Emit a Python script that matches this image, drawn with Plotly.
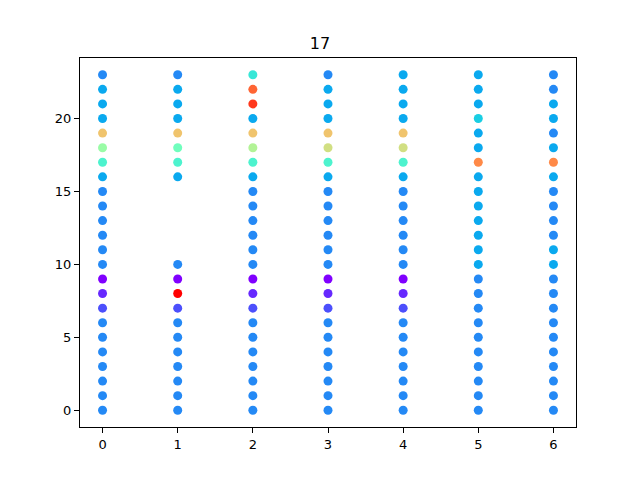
import numpy as np
import plotly.graph_objects as go

days = [0, 1, 2, 3, 4, 5, 6]
hours = list(range(24))

# values by day, hours 0..23 (None = no observation)
day0 = [0.18, 0.18, 0.18, 0.18, 0.18, 0.18, 0.18, 0.10, 0.05, 0.00, 0.18, 0.18, 0.18, 0.18, 0.18, 0.18, 0.23, 0.40, 0.55, 0.72, 0.23, 0.23, 0.23, 0.18]
day1 = [0.18, 0.18, 0.18, 0.18, 0.18, 0.18, 0.18, 0.10, 1.00, 0.00, 0.18, None, None, None, None, None, 0.23, 0.40, 0.47, 0.72, 0.23, 0.23, 0.23, 0.18]
day2 = [0.18, 0.18, 0.18, 0.18, 0.18, 0.18, 0.18, 0.10, 0.05, 0.00, 0.18, 0.18, 0.18, 0.18, 0.18, 0.18, 0.23, 0.40, 0.60, 0.72, 0.23, 0.93, 0.87, 0.36]
day3 = [0.18, 0.18, 0.18, 0.18, 0.18, 0.18, 0.18, 0.10, 0.05, 0.00, 0.18, 0.18, 0.18, 0.18, 0.18, 0.18, 0.23, 0.40, 0.66, 0.72, 0.23, 0.23, 0.23, 0.18]
day4 = [0.18, 0.18, 0.18, 0.18, 0.18, 0.18, 0.18, 0.10, 0.05, 0.00, 0.18, 0.18, 0.18, 0.18, 0.18, 0.18, 0.23, 0.40, 0.66, 0.72, 0.23, 0.23, 0.23, 0.23]
day5 = [0.18, 0.18, 0.18, 0.18, 0.18, 0.18, 0.18, 0.18, 0.18, 0.18, 0.23, 0.23, 0.23, 0.23, 0.23, 0.23, 0.23, 0.82, 0.23, 0.23, 0.30, 0.23, 0.23, 0.23]
day6 = [0.18, 0.18, 0.18, 0.18, 0.18, 0.18, 0.18, 0.18, 0.18, 0.18, 0.23, 0.23, 0.18, 0.18, 0.18, 0.18, 0.23, 0.82, 0.23, 0.18, 0.23, 0.23, 0.18, 0.18]
day_values = [day0, day1, day2, day3, day4, day5, day6]
title_text = "17"

# matplotlib "rainbow" colormap as a plotly colorscale
def rainbow(t):
    r = np.clip(np.abs(2 * t - 0.5), 0, 1)
    g = np.clip(np.sin(np.pi * t), 0, 1)
    b = np.clip(np.cos(np.pi * t / 2), 0, 1)
    return "rgb(%d,%d,%d)" % (round(r * 255), round(g * 255), round(b * 255))

scale = [[float(t), rainbow(t)] for t in np.linspace(0, 1, 101)]

xs, ys, cs = [], [], []
for d, vals in zip(days, day_values):
    for h, v in zip(hours, vals):
        if v is not None:
            xs.append(d)
            ys.append(h)
            cs.append(v)

fig = go.Figure(go.Scatter(
    x=xs, y=ys, mode="markers",
    marker=dict(size=9, color=cs, colorscale=scale, cmin=0, cmax=1, line=dict(width=0)),
    showlegend=False,
))

axis_common = dict(
    showgrid=False, zeroline=False, showline=True, linecolor="black", linewidth=1,
    mirror=True, ticks="outside", ticklen=5, tickwidth=1, tickcolor="black",
    tickfont=dict(family="DejaVu Sans", size=13, color="black"),
)
fig.update_xaxes(range=[-0.3, 6.3], tickvals=days, **axis_common)
fig.update_yaxes(range=[-1.15, 24.15], tickvals=[0, 5, 10, 15, 20], **axis_common)

fig.update_layout(
    width=640, height=480,
    margin=dict(l=80, r=64, t=58, b=53),
    plot_bgcolor="white", paper_bgcolor="white",
    title=dict(text=title_text, x=0.5, xanchor="center", y=1 - 43 / 480, yanchor="middle",
               font=dict(family="DejaVu Sans", size=16, color="black")),
)

fig.write_html("out.html")
